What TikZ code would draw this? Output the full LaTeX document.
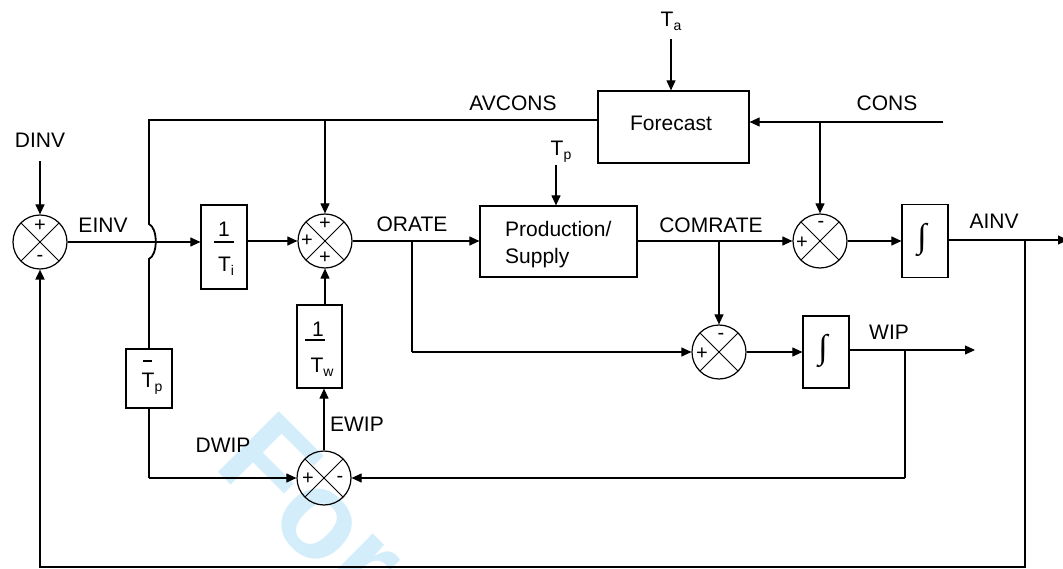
\documentclass[tikz,border=0pt]{standalone}
\usepackage{fontspec}
\setmainfont{Liberation Sans}
\newfontfamily\intfont{Liberation Serif}
\usetikzlibrary{arrows.meta,calc}
\newcommand\subs[1]{\raisebox{-0.35ex}{\fontsize{14}{14}\selectfont #1}}
\definecolor{wm}{RGB}{212,237,251}
\begin{document}
\begin{tikzpicture}[x=1pt,y=-1pt,
  every node/.style={font=\fontsize{21}{27}\selectfont, inner sep=0pt},
  ln/.style={line width=1.1pt},
  lnb/.style={line width=1.8pt},
  tip/.style={-{Triangle[length=10pt,width=9pt]}},
  arr/.style={ln,tip},
  blk/.style={draw,line width=1.2pt,fill=none},
  sgn/.style={font=\fontsize{20}{20}\selectfont},
  intg/.style={font=\intfont\fontsize{34}{34}\selectfont},
  summer/.style={circle,draw,line width=1.2pt,minimum size=54pt,
    path picture={\draw[line width=1pt]
      (path picture bounding box.north west)--(path picture bounding box.south east)
      (path picture bounding box.north east)--(path picture bounding box.south west);}}]
\useasboundingbox (0,0) rectangle (1063,569);

% watermark
\node[rotate=-45, anchor=base west, font=\fontsize{125}{125}\selectfont\bfseries, text=wm] (wmk) at (212,466) {For};

% blocks
\node[blk,minimum width=151pt,minimum height=72pt] (fc) at (673.5,127) {};
\node (fct) at (671,123) {Forecast};
\node[blk,minimum width=157pt,minimum height=71pt] (pr) at (558.5,241.5) {};
\node[align=left,anchor=west] (prt) at (505,245) {Production/\\Supply};
\node[blk,minimum width=46pt,minimum height=84pt] (bTi) at (224,247) {};
\node (bTi1) at (224,229) {1};
\draw[line width=1.2pt] (214,242) -- (234,242);
\node (bTi2) at (226,266) {T\subs{i}};
\node[blk,minimum width=45pt,minimum height=83pt] (bTw) at (319.5,346.5) {};
\node (bTw1) at (318,329) {1};
\draw[line width=1.2pt] (305,340) -- (325,340);
\node (bTw2) at (322,367) {T\subs{w}};
\node[blk,minimum width=46pt,minimum height=59pt] (bTp) at (149,378.5) {};
\draw[line width=1.6pt] (143,361) -- (152,361);
\node (bTp2) at (152,384) {T\subs{p}};
\node[blk,minimum width=46pt,minimum height=73pt] (bI1) at (925,241) {};
\node[intg] (bI1s) at (922,240) {∫};
\node[blk,minimum width=46pt,minimum height=72pt] (bI2) at (826,352) {};
\node[intg] (bI2s) at (823,351) {∫};

% summers
\node[summer] (S1) at (40,242) {};
\node[sgn] (S1a) at (40,226) {+};
\node[sgn] (S1b) at (40,258) {-};
\node[summer] (S2) at (325,241) {};
\node[sgn] (S2a) at (325,224) {+};
\node[sgn] (S2b) at (307,241) {+};
\node[sgn] (S2c) at (325,258) {+};
\node[summer] (S5) at (820,241) {};
\node[sgn] (S5a) at (802,243) {+};
\node[sgn] (S5b) at (821,224) {-};
\node[summer] (S3) at (719,352) {};
\node[sgn] (S3a) at (702,354) {+};
\node[sgn] (S3b) at (721,336) {-};
\node[summer] (S4) at (324,478) {};
\node[sgn] (S4a) at (308,479) {+};
\node[sgn] (S4b) at (340,479) {-};

% labels
\node (dinv) at (40,140) {DINV};
\node (einv) at (103,225) {EINV};
\node (avcons) at (513,103) {AVCONS};
\node (cons) at (887,103) {CONS};
\node (orate) at (412,224) {ORATE};
\node (comrate) at (711,225) {COMRATE};
\node (ainv) at (994,221) {AINV};
\node (wip) at (889,332) {WIP};
\node (ewip) at (357,424) {EWIP};
\node (dwip) at (223,445) {DWIP};
\node (ta) at (671,21) {T\subs{a}};
\node (tp) at (561,152) {T\subs{p}};

% coordinates
\coordinate (cAV) at (149,120);
\coordinate (cCONS) at (943,122);
\coordinate (ainvE) at (1068,240);
\coordinate (fbA) at (1025,567);
\coordinate (orB) at (412,352);
\coordinate (wipE) at (975,350);
\coordinate (wipB) at (905,350);

% connectors
\draw[arr,shorten <=14pt] (dinv.south) -- (dinv.south |- S1.north);
\draw[arr] (S1.east) -- (bTi.west |- S1);
\draw[arr] (bTi.east |- S2) -- (S2.west);
\draw[arr] (S2.east) -- (pr.west |- S2);
\draw[arr] (pr.east |- S5) -- (S5.west);
\draw[arr] (S5.east) -- (bI1.west |- S5);
\draw[arr] (bI1.east |- ainvE) -- (ainvE);
\draw[lnb,tip] (fbA |- ainvE) -- (fbA) -- (S1 |- fbA) -- (S1.south);
\draw[lnb] (orB |- S2) -- (orB);
\draw[arr] (orB) -- (S3.west);
\draw[arr] (S3 |- S5) -- (S3.north);
\draw[arr] (S3.east) -- (bI2.west |- S3);
\draw[arr] (bI2.east |- wipE) -- (wipE);
\draw[lnb] (wipB) -- (wipB |- S4);
\draw[arr] (wipB |- S4) -- (S4.east);
\draw[lnb] (bTp.south) -- (bTp.south |- S4);
\draw[arr] (bTp.south |- S4) -- (S4.west);
\draw[arr] (S4.north) -- (S4.north |- bTw.south);
\draw[arr] (S2 |- bTw.north) -- (S2.south);
\draw[arr] (S2 |- cAV) -- (S2.north);
\draw[lnb] (fc.west |- cAV) -- (cAV) -- (149,224)
  .. controls (158,228) and (158,255) .. (149,259) -- (bTp.north);
\draw[arr] (cCONS) -- (fc.east |- cCONS);
\draw[arr] (S5 |- cCONS) -- (S5.north);
\draw[arr,shorten <=9pt] (ta.south) -- (ta.south |- fc.north);
\draw[arr,shorten <=2pt] ([xshift=-5pt]tp.south) -- ([xshift=-5pt]tp.south |- pr.north);
\end{tikzpicture}
\end{document}
